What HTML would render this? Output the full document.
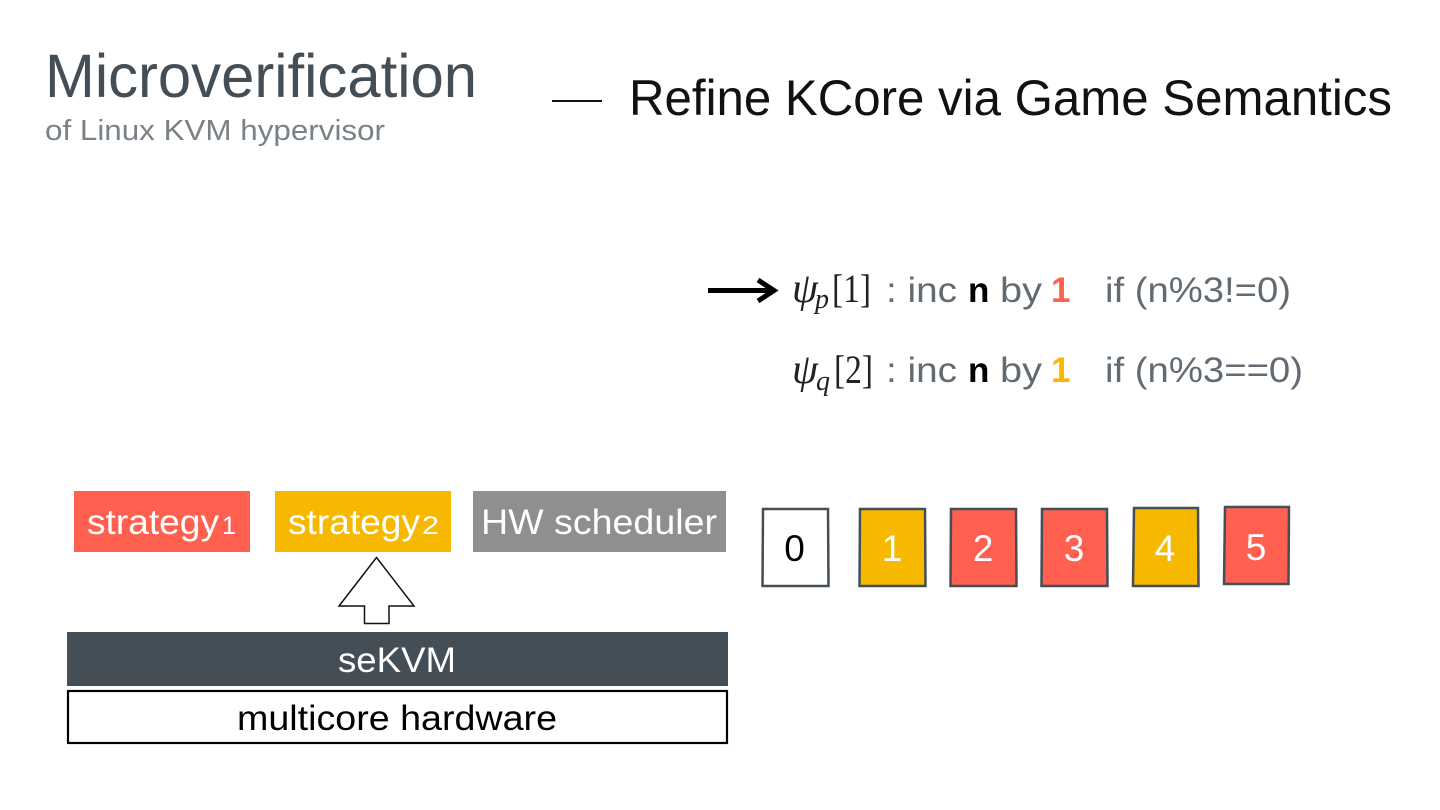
<!DOCTYPE html>
<html><head><meta charset="utf-8"><style>
html,body{margin:0;padding:0;background:#fff;width:1440px;height:810px;overflow:hidden}
svg{display:block}
text{font-family:"Liberation Sans",sans-serif}
.m{font-family:"Liberation Serif",serif}
</style></head><body>
<svg width="1440" height="810" viewBox="0 0 1440 810" xmlns="http://www.w3.org/2000/svg">
<rect width="1440" height="810" fill="#fff"/>
<text x="45" y="97" font-size="61" fill="#434e57" textLength="432" lengthAdjust="spacingAndGlyphs">Microverification</text>
<text x="45" y="140" font-size="29" fill="#7a8288" textLength="340" lengthAdjust="spacingAndGlyphs">of Linux KVM hypervisor</text>
<rect x="552" y="100" width="50" height="2" fill="#111"/>
<text x="629" y="115" font-size="50" fill="#111" textLength="763" lengthAdjust="spacingAndGlyphs">Refine KCore via Game Semantics</text>

<path d="M708 290.500H772" stroke="#000" stroke-width="5" fill="none"/>
<path d="M758 280L774 290.500L758 301" stroke="#000" stroke-width="5" fill="none"/>
<text class="m" x="792" y="302" font-size="42" font-style="italic" fill="#222" textLength="26" lengthAdjust="spacingAndGlyphs">ψ</text>
<text class="m" x="815" y="308" font-size="28" font-style="italic" fill="#222">p</text>
<text class="m" x="832" y="302" font-size="40" fill="#222" textLength="39" lengthAdjust="spacingAndGlyphs">[1]</text>
<text x="886" y="302" font-size="35" fill="#626a72" textLength="71" lengthAdjust="spacingAndGlyphs">: inc</text>
<text x="968" y="302" font-size="35" font-weight="700" fill="#000">n</text>
<text x="1000" y="302" font-size="35" fill="#626a72" textLength="42" lengthAdjust="spacingAndGlyphs">by</text>
<text x="1051" y="302" font-size="35" font-weight="700" fill="#ff6050">1</text>
<text x="1105" y="302" font-size="35" fill="#626a72" textLength="186" lengthAdjust="spacingAndGlyphs">if (n%3!=0)</text>

<text class="m" x="792" y="383" font-size="42" font-style="italic" fill="#222" textLength="26" lengthAdjust="spacingAndGlyphs">ψ</text>
<text class="m" x="816" y="390" font-size="28" font-style="italic" fill="#222">q</text>
<text class="m" x="834" y="383" font-size="40" fill="#222" textLength="39" lengthAdjust="spacingAndGlyphs">[2]</text>
<text x="886" y="382" font-size="35" fill="#626a72" textLength="71" lengthAdjust="spacingAndGlyphs">: inc</text>
<text x="968" y="382" font-size="35" font-weight="700" fill="#000">n</text>
<text x="1000" y="382" font-size="35" fill="#626a72" textLength="42" lengthAdjust="spacingAndGlyphs">by</text>
<text x="1051" y="382" font-size="35" font-weight="700" fill="#f7b900">1</text>
<text x="1105" y="382" font-size="35" fill="#626a72" textLength="198" lengthAdjust="spacingAndGlyphs">if (n%3==0)</text>

<rect x="74" y="491" width="176" height="61" fill="#ff6050"/>
<rect x="275" y="491" width="176" height="61" fill="#f7b900"/>
<rect x="473" y="491" width="253" height="61" fill="#8f8f8f"/>
<text x="87" y="534" font-size="35" fill="#fff" textLength="132" lengthAdjust="spacingAndGlyphs">strategy</text>
<text x="222" y="534" font-size="25" fill="#fff">1</text>
<text x="288" y="534" font-size="35" fill="#fff" textLength="132" lengthAdjust="spacingAndGlyphs">strategy</text>
<text x="422" y="534" font-size="25" fill="#fff" textLength="17" lengthAdjust="spacingAndGlyphs">2</text>
<text x="481" y="534" font-size="35" fill="#fff" textLength="236" lengthAdjust="spacingAndGlyphs">HW scheduler</text>

<path d="M376.500 557.500L339 606H364.500V623.500H389V606H414Z" fill="#fff" stroke="#111" stroke-width="1.500"/>

<rect x="67" y="632" width="661" height="54" fill="#434e57"/>
<text x="338" y="672" font-size="35" fill="#fff" textLength="118" lengthAdjust="spacingAndGlyphs">seKVM</text>
<rect x="68" y="691" width="659" height="52" fill="#fff" stroke="#000" stroke-width="2.200"/>
<text x="237" y="730" font-size="35" fill="#000" textLength="320" lengthAdjust="spacingAndGlyphs">multicore hardware</text>

<g stroke="#434e57" stroke-width="2.500">
<path d="M763 509H828L828.500 586H762.500Z" fill="#fff"/>
<path d="M860 509H925L925.500 586H859.500Z" fill="#f7b900"/>
<path d="M951 509H1016L1016.500 586H950.500Z" fill="#ff6050"/>
<path d="M1042 509H1107L1107.500 586H1041.500Z" fill="#ff6050"/>
<path d="M1134 508H1198L1198.500 586H1133Z" fill="#f7b900"/>
<path d="M1225 507H1289L1288.500 584H1224Z" fill="#ff6050"/>
</g>
<g font-size="37" text-anchor="middle">
<text x="794.500" y="561" fill="#000">0</text>
<text x="892" y="561" fill="#fff">1</text>
<text x="983" y="561" fill="#fff">2</text>
<text x="1074" y="561" fill="#fff">3</text>
<text x="1165" y="561" fill="#fff">4</text>
<text x="1256" y="560" fill="#fff">5</text>
</g>
</svg>
</body></html>
